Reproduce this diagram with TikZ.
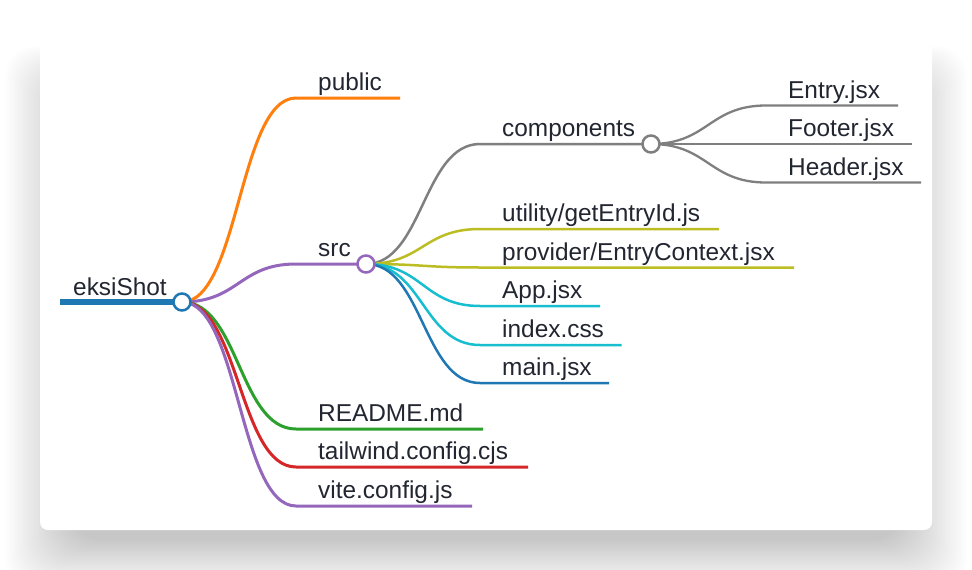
\documentclass[tikz,border=0pt]{standalone}
\usepackage{fontspec}
\setmainfont{Liberation Sans}
\definecolor{tblue}{HTML}{1F77B4}
\definecolor{torange}{HTML}{FF7F0E}
\definecolor{tgreen}{HTML}{2CA02C}
\definecolor{tred}{HTML}{D62728}
\definecolor{tpurple}{HTML}{9467BD}
\definecolor{tgray}{HTML}{7F7F7F}
\definecolor{tolive}{HTML}{BCBD22}
\definecolor{tcyan}{HTML}{17BECF}
\definecolor{txt}{RGB}{34,38,49}
\tikzset{
  lbl/.style={anchor=base west, inner sep=0pt, font=\fontsize{24.4}{28}\selectfont, text=txt},
  lvA/.style={line width=3pt},
  lvB/.style={line width=2.5pt},
  lvC/.style={line width=2.3pt},
  dot/.style={circle, fill=white, line width=2.5pt, minimum size=17pt, inner sep=0pt},
}
\begin{document}
\begin{tikzpicture}[x=1pt,y=-1pt]
\useasboundingbox (0,0) rectangle (972,570);
\fill[white] (0,0) rectangle (972,570);
% shadow
\foreach \s in {54,52,...,0} {
  \fill[black, opacity=0.0075, rounded corners=30pt] ({70-1.2*\s},{95-0.9*\s}) rectangle ({902+1.2*\s},{540+0.9*\s});
}
\fill[white, rounded corners=8pt] (40,40) rectangle (932,530);

% root
\coordinate (root) at (182,302);
\coordinate (root-s) at (60,302);
\node[lbl] (root-t) at (73,295) {eksiShot};
\draw[tblue, line width=5.5pt] (root-s) -- (root);

% level 1
\coordinate (public) at (296,98);   \coordinate (public-e) at (400,98);
\coordinate (src) at (296,264);     \coordinate (srcp) at (366,264);
\coordinate (readme) at (296,429);  \coordinate (readme-e) at (483,429);
\coordinate (tw) at (296,467);      \coordinate (tw-e) at (528,467);
\coordinate (vite) at (296,506);    \coordinate (vite-e) at (472,506);

\node[lbl] (public-t) at (318,90.5) {public};
\node[lbl] (src-t) at (318,256.5) {src};
\node[lbl] (readme-t) at (318,421.5) {README.md};
\node[lbl] (tw-t) at (318,459.5) {tailwind.config.cjs};
\node[lbl] (vite-t) at (318,498.5) {vite.config.js};

\draw[lvA, torange] (root) .. controls ([xshift=57]root) and ([xshift=-57]public) .. (public) -- (public-e);
\draw[lvA, tpurple] (root) .. controls ([xshift=57]root) and ([xshift=-57]src) .. (src) -- (srcp);
\draw[lvA, tgreen] (root) .. controls ([xshift=57]root) and ([xshift=-57]readme) .. (readme) -- (readme-e);
\draw[lvA, tred] (root) .. controls ([xshift=57]root) and ([xshift=-57]tw) .. (tw) -- (tw-e);
\draw[lvA, tpurple] (root) .. controls ([xshift=57]root) and ([xshift=-57]vite) .. (vite) -- (vite-e);

% level 2
\coordinate (comp) at (480,144);    \coordinate (compp) at (651,144);
\coordinate (util) at (480,229);    \coordinate (util-e) at (719,229);
\coordinate (prov) at (480,267.5);  \coordinate (prov-e) at (794,267.5);
\coordinate (app) at (480,306);     \coordinate (app-e) at (600,306);
\coordinate (idx) at (480,345);     \coordinate (idx-e) at (621.5,345);
\coordinate (main) at (480,383);    \coordinate (main-e) at (609,383);

\node[lbl] (comp-t) at (502,136.5) {components};
\node[lbl] (util-t) at (502,221.5) {utility/getEntryId.js};
\node[lbl] (prov-t) at (502,260) {provider/EntryContext.jsx};
\node[lbl] (app-t) at (502,298.5) {App.jsx};
\node[lbl] (idx-t) at (502,337.5) {index.css};
\node[lbl] (main-t) at (502,375.5) {main.jsx};

\draw[lvB, tgray] (srcp) .. controls ([xshift=57]srcp) and ([xshift=-57]comp) .. (comp) -- (compp);
\draw[lvB, tolive] (srcp) .. controls ([xshift=57]srcp) and ([xshift=-57]util) .. (util) -- (util-e);
\draw[lvB, tolive] (srcp) .. controls ([xshift=57]srcp) and ([xshift=-57]prov) .. (prov) -- (prov-e);
\draw[lvB, tcyan] (srcp) .. controls ([xshift=57]srcp) and ([xshift=-57]app) .. (app) -- (app-e);
\draw[lvB, tcyan] (srcp) .. controls ([xshift=57]srcp) and ([xshift=-57]idx) .. (idx) -- (idx-e);
\draw[lvB, tblue] (srcp) .. controls ([xshift=57]srcp) and ([xshift=-57]main) .. (main) -- (main-e);

% level 3
\coordinate (entry) at (766,105.5);  \coordinate (entry-e) at (898,105.5);
\coordinate (footer) at (766,144);   \coordinate (footer-e) at (912,144);
\coordinate (header) at (766,182.5); \coordinate (header-e) at (921,182.5);

\node[lbl] (entry-t) at (788,98) {Entry.jsx};
\node[lbl] (footer-t) at (788,136.5) {Footer.jsx};
\node[lbl] (header-t) at (788,175) {Header.jsx};

\draw[lvC, tgray] (compp) .. controls ([xshift=57]compp) and ([xshift=-57]entry) .. (entry) -- (entry-e);
\draw[lvC, tgray] (compp) .. controls ([xshift=57]compp) and ([xshift=-57]footer) .. (footer) -- (footer-e);
\draw[lvC, tgray] (compp) .. controls ([xshift=57]compp) and ([xshift=-57]header) .. (header) -- (header-e);

% circles
\node[dot, draw=tgray] (comp-dot) at (compp) {};
\node[dot, draw=tpurple] (src-dot) at (srcp) {};
\node[dot, draw=tblue] (root-dot) at (root) {};
\end{tikzpicture}
\end{document}
